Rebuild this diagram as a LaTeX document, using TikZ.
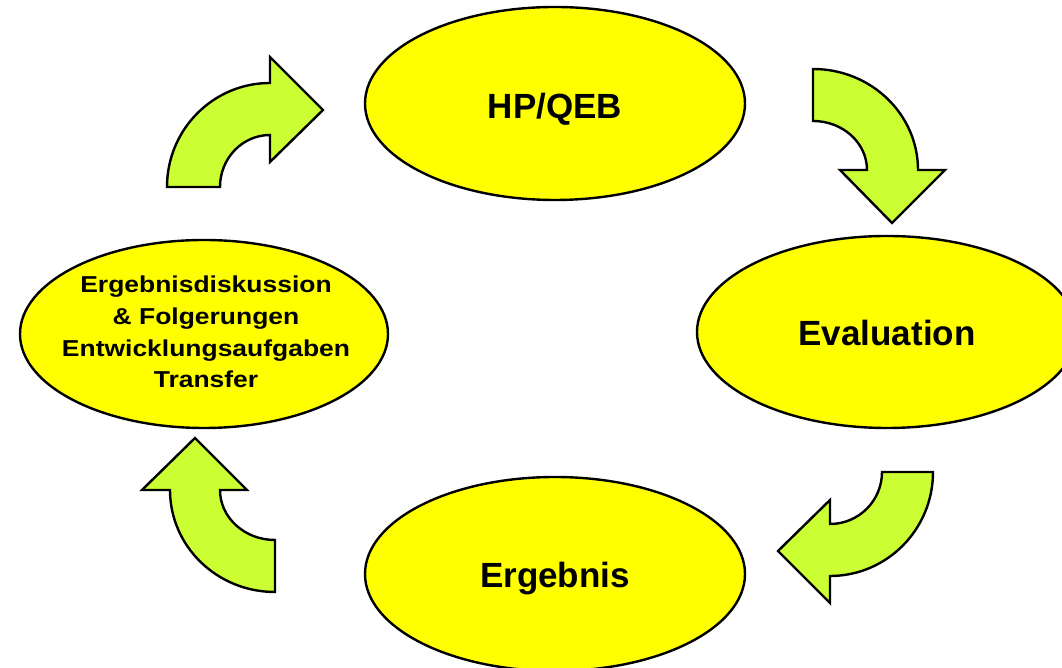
\documentclass[tikz,border=0pt]{standalone}
\usepackage{fontspec}
\setmainfont{Liberation Sans}
\newfontfamily\widefont[FakeStretch=1.15]{Liberation Sans}
\usetikzlibrary{shapes.geometric}
\definecolor{ellfill}{RGB}{255,255,0}
\definecolor{arrowfill}{RGB}{204,255,51}
\tikzset{
  stage/.style={ellipse, draw=black, line width=2.4pt, fill=ellfill, inner sep=0pt},
  stagetext/.style={font=\fontsize{35}{42}\selectfont\bfseries, align=center,
    inner sep=0pt, text depth=0pt},
  bigarrow/.style={draw=black, line width=2.4pt, fill=arrowfill, line join=miter}
}
\begin{document}
\begin{tikzpicture}[x=1pt,y=1pt]
\useasboundingbox (0,0) rectangle (1062,668);
\clip (0,0) rectangle (1062,668);
% stages
\node[stage, minimum width=380pt, minimum height=193pt] (hp) at (555,564.5) {};
\node[stagetext] (hpt) at ([yshift=-2.5pt]hp.center) {HP/QEB};
\node[stage, minimum width=380pt, minimum height=192pt] (ev) at (887,336) {};
\node[stagetext] (evt) at ([yshift=-1pt]ev.center) {Evaluation};
\node[stage, minimum width=380pt, minimum height=194pt] (er) at (555,94) {};
\node[stagetext] (ert) at ([yshift=-1pt]er.center) {Ergebnis};
\node[stage, minimum width=368pt, minimum height=188pt] (ed) at (204,334) {};
\node[align=center, inner sep=0pt,
      font=\widefont\fontsize{23}{31.7}\selectfont\bfseries] (edt) at ([yshift=2pt,xshift=2pt]ed.center)
  {Ergebnisdiskussion\\\& Folgerungen\\Entwicklungsaufgaben\\Transfer};
% curved block arrows
\draw[bigarrow] (220,481) -- (167,481)
  arc[start angle=180,end angle=90,x radius=103,y radius=104]
  -- (270,611) -- (323,558) -- (270,506) -- (270,533)
  arc[start angle=90,end angle=180,x radius=50,y radius=52] -- cycle;
\draw[bigarrow] (813,547) -- (813,599)
  arc[start angle=90,end angle=0,x radius=105,y radius=101]
  -- (945,498) -- (892,445) -- (840,498) -- (867,498)
  arc[start angle=0,end angle=90,x radius=54,y radius=49] -- cycle;
\draw[bigarrow] (882,196) -- (933,196)
  arc[start angle=0,end angle=-90,x radius=103,y radius=104]
  -- (830,65) -- (778,117) -- (830,168) -- (830,144)
  arc[start angle=-90,end angle=0,x radius=52,y radius=52] -- cycle;
\draw[bigarrow] (275,128) -- (275,76)
  arc[start angle=-90,end angle=-180,x radius=105,y radius=102]
  -- (142,178) -- (195,230) -- (247,178) -- (220,178)
  arc[start angle=180,end angle=270,x radius=55,y radius=50] -- cycle;
\end{tikzpicture}
\end{document}
